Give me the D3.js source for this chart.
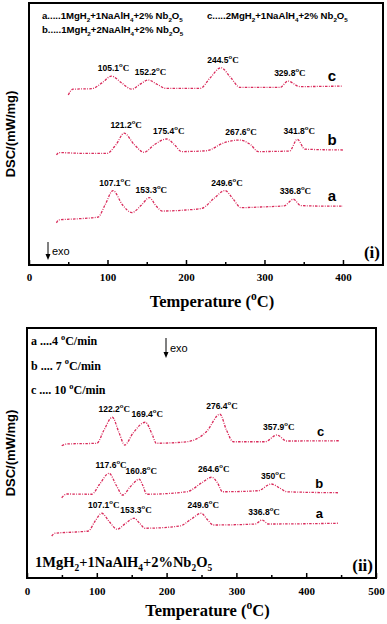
<!DOCTYPE html>
<meta charset="utf-8">
<style>
    body { margin: 0; background: #fff; }
    .curve { fill: none; stroke: #d92b5b; stroke-width: 1.3; stroke-dasharray: 2.5,1.3,0.9,1.3; }
    .frame { fill: none; stroke: #000; stroke-width: 2; }
    .axis path { display: none; }
    .axis line { stroke: #000; stroke-width: 1.5; }
    .axis text { font-family: "Liberation Serif", "Times New Roman", serif; font-weight: bold; font-size: 11px; fill: #000; }
    .sans { font-family: "Liberation Sans", Arial, sans-serif; font-weight: bold; }
    .serif { font-family: "Liberation Serif", "Times New Roman", serif; font-weight: bold; }
</style>
<body>
<script src="https://cdn.jsdelivr.net/npm/d3@7"></script>
<script>
    // panel (i): composition series, temperature in degC, DSC in arbitrary units
    var ticksI = [0, 100, 200, 300, 400],
        minorI = [50, 150, 250, 350, 450];
    var curveIa = [[35,16.1],[38,17.2],[60,17.6],[88,18.3],[97,23],[107.1,28.4],[119,23],[131,20.0],[143,22.8],[153.3,25.7],[162,22.5],[170,20.6],[200,21.0],[220,21.6],[236,25.5],[249.6,28.4],[260,25.2],[270,21.9],[300,22.2],[325,22.6],[336.8,25.1],[346,22.7],[370,22.5],[400,22.5]];
    var curveIb = [[35,42.0],[38,42.9],[70,42.6],[99,42.6],[111,46],[121.2,50.3],[134,46],[146.5,43.0],[160,46],[175.4,48.1],[185,46],[194.5,43.3],[226,43.6],[248,46.6],[267.6,47.7],[282,46],[292,43.3],[332,43.5],[341.8,48.0],[351.6,44.2],[400,43.9]];
    var curveIc = [[50,64.9],[56,67.1],[80,67.3],[93,69.5],[105.1,72.1],[118,69.5],[131,67.1],[141,68.9],[152.2,70.6],[163,69],[175,67.4],[218,67.4],[231,71.5],[244.5,75.3],[257,71.5],[269,67.8],[320,67.8],[329.8,70.2],[345,68.1],[400,68.3]];
    var peaksIa = [107.1, 153.3, 249.6, 336.8],
        peaksIb = [121.2, 175.4, 267.6, 341.8],
        peaksIc = [105.1, 152.2, 244.5, 329.8];

    // panel (ii): heating-rate series
    var ticksII = [0, 100, 200, 300, 400, 500],
        minorII = [50, 150, 250, 350, 450];
    var curveIIa = [[35.4,16.8],[40,17.9],[70,18.4],[88,18.8],[97,22.5],[107.1,25.9],[118,22.5],[129,19.5],[141,21.8],[153.3,23.9],[161,22],[169,19.9],[219,20.8],[235,23.5],[249.6,25.9],[258,23.5],[267,21.2],[327,21.6],[336.8,23.2],[346,21.6],[446,21.9]];
    var curveIIb = [[49.7,32.1],[57,33.6],[92.7,33.5],[104,37.5],[117.6,41.9],[128,37],[137,33.2],[148,36.5],[160.8,39.5],[166,37],[171.5,33.5],[229,34.5],[250,38],[264.6,40.3],[273,38],[280,34.5],[331,34.9],[350,37.6],[362,36],[372,34.5],[446,34.1]];
    var curveIIc = [[49.7,52.9],[57,53.6],[100,53.9],[110,59],[122.2,64.3],[132,58],[140,53.2],[152,58],[169.4,62.3],[180,57],[185,53.9],[229,54.5],[257,58.5],[276.4,65.5],[286,59],[295.6,54.5],[341,54.5],[357.9,57.2],[372,54.8],[448,54.9]];
    var peaksIIa = [107.1, 153.3, 249.6, 336.8],
        peaksIIb = [117.6, 160.8, 264.6, 350],
        peaksIIc = [122.2, 169.4, 276.4, 357.9];

    var legendI = ['a.....1MgH_2+1NaAlH_4+2% Nb_2O_5', 'b.....1MgH_2+2NaAlH_4+2% Nb_2O_5', 'c.....2MgH_2+1NaAlH_4+2% Nb_2O_5'];
    var legendII = ['a ....4 ^oC/min', 'b .... 7 ^oC/min', 'c .... 10 ^oC/min'];

    var svg = d3.select('body').append('svg')
        .attr('width', 387)
        .attr('height', 624);

    // text with _x subscripts and ^x superscripts
    function rich(sel, str, size) {
        var parts = str.split(/([_^].)/), cur = 0;
        parts.forEach(function(p) {
            if (!p) return;
            var target = 0, fs = size, txt = p;
            if (p[0] == '_') { target = size * 0.3; fs = size * 0.65; txt = p[1]; }
            else if (p[0] == '^') { target = -size * 0.45; fs = size * 0.7; txt = p[1]; }
            sel.append('tspan').attr('dy', target - cur).style('font-size', fs + 'px').text(txt);
            cur = target;
        });
    }

    function drawPanel(p) {
        var x = d3.scaleLinear().domain([0, p.xMax]).range([p.left, p.right]);
        var y = d3.scaleLinear().domain([0, 100]).range([p.bottom, p.top]);
        var g = svg.append('g');
        var line = d3.line().x(function(d) { return x(d[0]); }).y(function(d) { return y(d[1]); })
            .curve(d3.curveMonotoneX);

        g.append('g').attr('class', 'axis')
            .attr('transform', 'translate(0,' + p.bottom + ')')
            .call(d3.axisBottom(x).tickValues(p.ticks).tickSizeInner(-5).tickSizeOuter(0).tickPadding(p.pad));
        g.append('g').attr('class', 'axis')
            .attr('transform', 'translate(0,' + p.bottom + ')')
            .call(d3.axisBottom(x).tickValues(p.minor).tickSizeInner(-3).tickSizeOuter(0).tickFormat(''));

        g.append('rect').attr('class', 'frame')
            .attr('x', p.left).attr('y', p.top)
            .attr('width', p.right - p.left).attr('height', p.bottom - p.top);

        p.curves.forEach(function(c) {
            g.append('path').attr('class', 'curve').attr('d', line(c.data));
            c.peaks.forEach(function(t) {
                var pt = c.data.find(function(d) { return d[0] == t; });
                var txt = g.append('text').attr('class', 'sans')
                    .attr('x', x(pt[0]) + 2).attr('y', y(pt[1]) - 5)
                    .attr('text-anchor', 'middle').style('font-size', '8.5px');
                txt.append('tspan').text(t);
                txt.append('tspan').attr('dy', -4).style('font-size', '6px').text('o');
                txt.append('tspan').attr('dy', 4).attr('class', 'serif').style('font-size', '9px').text('C');
            });
            var last = c.data[c.data.length - 1];
            g.append('text').attr('class', 'sans')
                .attr('x', x(last[0]) - p.letterDx).attr('y', y(last[1]) - 5)
                .attr('text-anchor', 'middle').style('font-size', p.letterSize + 'px')
                .text(c.name);
        });

        g.append('text').attr('class', 'serif')
            .attr('x', (p.left + p.right) / 2 + 6).attr('y', p.titleY)
            .attr('text-anchor', 'middle')
            .call(rich, 'Temperature (^oC)', 16.5);

        g.append('text').attr('class', 'sans')
            .attr('transform', 'translate(15,' + ((p.top + p.bottom) / 2) + ') rotate(-90)')
            .attr('text-anchor', 'middle').style('font-size', '13px')
            .text('DSC/(mW/mg)');

        // exo arrow
        g.append('line').attr('x1', p.exo[0]).attr('x2', p.exo[0])
            .attr('y1', p.exo[1]).attr('y2', p.exo[1] + p.exo[2] - 4)
            .attr('stroke', '#000').attr('stroke-width', 1);
        g.append('path')
            .attr('d', 'M' + (p.exo[0] - 2.5) + ',' + (p.exo[1] + p.exo[2] - 5) + 'l2.5,6l2.5,-6z')
            .attr('fill', '#000');
        g.append('text').attr('class', 'sans').style('font-weight', 'normal').style('font-size', '11px')
            .attr('x', p.exo[0] + 4).attr('y', p.exo[1] + p.exo[2] / 2 + 4).text('exo');

        g.append('text').attr('class', 'serif').style('font-size', '17px')
            .attr('x', p.right - 3).attr('y', p.bottom - 7).attr('text-anchor', 'end')
            .text(p.tag);
        return g;
    }

    var gi = drawPanel({
        left: 29, right: 383, top: 3, bottom: 265, xMax: 451, pad: 8,
        ticks: ticksI, minor: minorI, titleY: 307, tag: '(i)',
        letterDx: 11, letterSize: 15, exo: [48, 242, 17],
        curves: [
            {name: 'a', data: curveIa, peaks: peaksIa},
            {name: 'b', data: curveIb, peaks: peaksIb},
            {name: 'c', data: curveIc, peaks: peaksIc}
        ]
    });
    [[42, 19], [42, 33], [207, 19]].forEach(function(pos, i) {
        gi.append('text').attr('class', 'sans')
            .attr('x', pos[0]).attr('y', pos[1])
            .call(rich, legendI[i], 9.6);
    });

    var gii = drawPanel({
        left: 27, right: 376, top: 328, bottom: 578, xMax: 500, pad: 9,
        ticks: ticksII, minor: minorII, titleY: 616, tag: '(ii)',
        letterDx: 19, letterSize: 13, exo: [166, 338, 19],
        curves: [
            {name: 'a', data: curveIIa, peaks: peaksIIa},
            {name: 'b', data: curveIIb, peaks: peaksIIb},
            {name: 'c', data: curveIIc, peaks: peaksIIc}
        ]
    });
    legendII.forEach(function(s, i) {
        gii.append('text').attr('class', 'serif')
            .attr('x', 31).attr('y', 345 + i * 24.5)
            .call(rich, s, 12);
    });
    gii.append('text').attr('class', 'serif')
        .attr('x', 35).attr('y', 567)
        .call(rich, '1MgH_2+1NaAlH_4+2%Nb_2O_5', 14.5);
</script>
</body>
